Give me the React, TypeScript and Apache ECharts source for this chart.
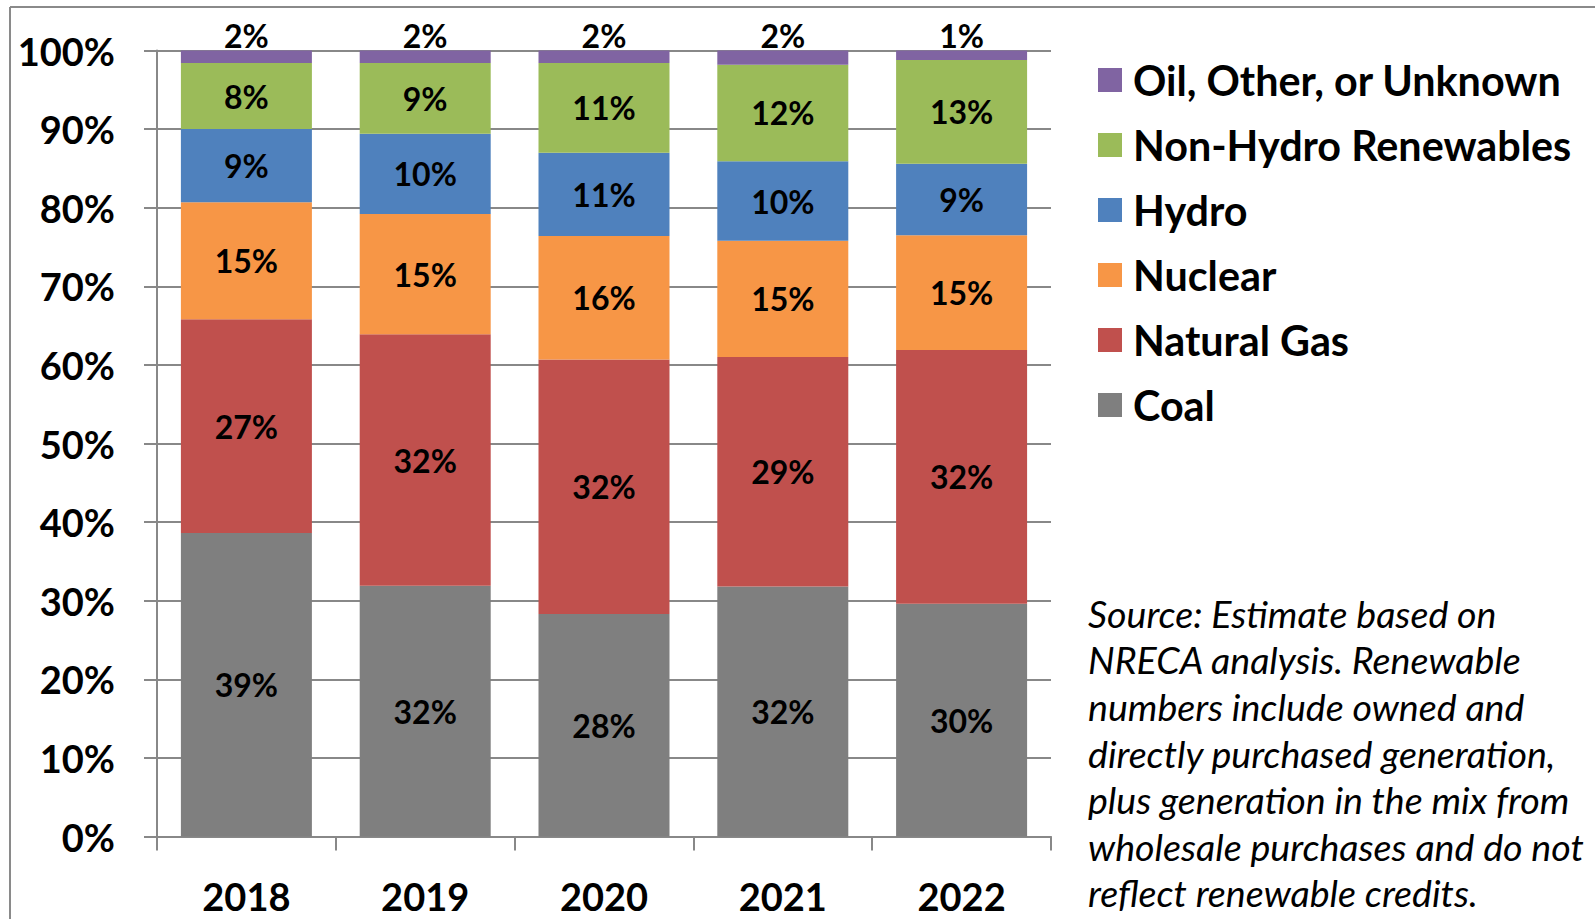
import React, { useEffect, useRef } from "react";
import * as echarts from "echarts";

const years = ["2018", "2019", "2020", "2021", "2022"];
const coal = [38.6, 31.9, 28.3, 31.8, 29.6];
const naturalGas = [27.2, 32.0, 32.4, 29.2, 32.3];
const nuclear = [14.9, 15.3, 15.7, 14.8, 14.6];
const hydro = [9.3, 10.2, 10.6, 10.1, 9.1];
const nonHydroRenewables = [8.4, 9.0, 11.4, 12.3, 13.2];
const oilOtherUnknown = [1.6, 1.6, 1.6, 1.8, 1.2];

const seriesNames = ["Coal", "Natural Gas", "Nuclear", "Hydro", "Non-Hydro Renewables", "Oil, Other, or Unknown"];
const seriesColors = ["#7F7F7F", "#C0504D", "#F79646", "#4F81BD", "#9BBB59", "#8064A2"];
const legendOrder = ["Oil, Other, or Unknown", "Non-Hydro Renewables", "Hydro", "Nuclear", "Natural Gas", "Coal"];

const yMin = 0;
const yMax = 100;
const yStep = 10;

const sourceLines = [
  "Source: Estimate based on",
  "NRECA analysis. Renewable",
  "numbers include owned and",
  "directly purchased generation,",
  "plus generation in the mix from",
  "wholesale purchases and do not",
  "reflect renewable credits.",
];

const FONT = "Lato, 'Open Sans', 'Liberation Sans', sans-serif";
const GRID_GRAY = "#888888";

export default function App() {
  const ref = useRef<HTMLDivElement>(null);

  useEffect(() => {
    document.body.style.margin = "0";
    if (!ref.current) return;
    const chart = echarts.init(ref.current, null, { renderer: "svg" });
    const values = [coal, naturalGas, nuclear, hydro, nonHydroRenewables, oilOtherUnknown];
    const series = seriesNames.map((name, i) => ({
      name,
      type: "bar",
      stack: "total",
      barWidth: 131,
      data: values[i],
      itemStyle: { color: seriesColors[i] },
      label: {
        show: true,
        position: i === values.length - 1 ? "top" : "inside",
        distance: i === values.length - 1 ? -1 : 5,
        color: "#000",
        fontFamily: FONT,
        fontWeight: "bold",
        fontSize: 32,
        formatter: (p: any) => Math.round(p.value) + "%",
      },
    }));

    chart.setOption({
      animation: false,
      backgroundColor: "#ffffff",
      grid: { left: 157, width: 894, top: 50.5, height: 786, containLabel: false },
      legend: {
        orient: "vertical",
        left: 1093,
        top: 54,
        data: legendOrder,
        icon: "rect",
        itemWidth: 24,
        itemHeight: 24,
        itemGap: 23,
        selectedMode: false,
        textStyle: {
          fontFamily: FONT,
          fontWeight: "bold",
          fontSize: 41.3,
          lineHeight: 42,
          color: "#000",
          padding: [0, 0, 0, 6],
        },
      },
      xAxis: {
        type: "category",
        data: years,
        axisLine: { show: true, lineStyle: { color: GRID_GRAY, width: 2 } },
        axisTick: { show: true, length: 14, lineStyle: { color: GRID_GRAY, width: 2 } },
        axisLabel: {
          margin: 40,
          color: "#000",
          fontFamily: FONT,
          fontWeight: "bold",
          fontSize: 38,
        },
      },
      yAxis: {
        type: "value",
        min: yMin,
        max: yMax,
        interval: yStep,
        axisLine: { show: true, lineStyle: { color: GRID_GRAY, width: 2 } },
        axisTick: { show: true, length: 13, lineStyle: { color: GRID_GRAY, width: 2 } },
        splitLine: { show: true, lineStyle: { color: GRID_GRAY, width: 2 } },
        axisLabel: {
          margin: 42,
          color: "#000",
          fontFamily: FONT,
          fontWeight: "bold",
          fontSize: 38,
          formatter: "{value}%",
        },
      },
      graphic: [
        {
          type: "line",
          shape: { x1: 10, y1: 7, x2: 1595, y2: 7 },
          style: { stroke: "#8a8a8a", lineWidth: 2 },
        },
        {
          type: "line",
          shape: { x1: 10, y1: 7, x2: 10, y2: 919 },
          style: { stroke: "#8a8a8a", lineWidth: 2 },
        },
        {
          type: "text",
          x: 1088,
          y: 590,
          style: {
            text: sourceLines.join("\n"),
            fontFamily: FONT,
            fontStyle: "italic",
            fontSize: 37.6,
            lineHeight: 46.6,
            fill: "#000",
            verticalAlign: "top",
            align: "left",
          },
        },
      ],
      series,
    });
    return () => chart.dispose();
  }, []);

  return <div ref={ref} style={{ position: "absolute", left: 0, top: 0, width: 1595, height: 919 }} />;
}
